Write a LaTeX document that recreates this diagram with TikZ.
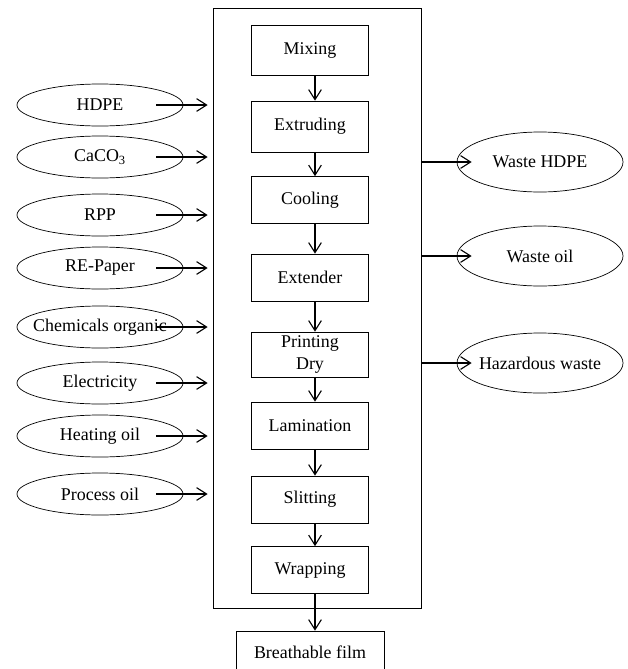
\documentclass[tikz,border=0pt]{standalone}
\usepackage{fontspec}
\setmainfont{Liberation Serif}
\usetikzlibrary{shapes.geometric,arrows.meta}

\tikzset{
proc/.style={rectangle,draw,minimum width=3.51cm,minimum height=1.41cm,inner sep=0pt,align=center},
inp/.style={ellipse,draw,minimum width=4.98cm,minimum height=1.26cm,inner sep=0pt,
  execute at begin node={\hbox to 0pt\bgroup\hss},execute at end node={\hss\egroup}},
outp/.style={inp,minimum height=1.8cm},
flow/.style={-{Straight Barb[length=3mm,width=3.8mm]},line width=0.95pt}
}

\begin{document}
\begin{tikzpicture}[x=0.03cm,y=-0.03cm,
font=\fontsize{15.3}{18.7}\selectfont,
line width=0.6pt
]
\useasboundingbox (0,0) rectangle (628,669);
\node (frame) [draw,minimum width=6.24cm,minimum height=18cm] at (317,308) {};
% process steps
\node (mix) [proc,minimum height=1.5cm] at (310,50) {Mixing};
\node (extr) [proc,minimum height=1.53cm] at (310,126.5) {Extruding};
\node (cool) [proc] at (310,200) {Cooling};
\node (ext) [proc] at (310,277.5) {Extender};
\node (print) [proc,minimum height=1.35cm] at (310,354.5) {Printing\\Dry};
\node (lam) [proc] at (310,425.5) {Lamination};
\node (slit) [proc] at (310,499.5) {Slitting};
\node (wrap) [proc] at (310,570) {Wrapping};
\node (film) [proc,minimum width=4.44cm,minimum height=1.26cm] at (310,652) {Breathable film};
\foreach \a/\b in {mix/extr,extr/cool,cool/ext,ext/print,print/lam,lam/slit,slit/wrap,wrap/film}
  \draw[flow] ([xshift=1.5mm]\a.south) -- ([xshift=1.5mm]\b.north);
% inputs
\foreach \n/\y/\t in {hdpe/105/HDPE,caco/157/CaCO\textsubscript{3},rpp/215/RPP,paper/268/RE-Paper,
  chem/327/Chemicals organic,elec/383/Electricity,heat/436/Heating oil,proc/494/Process oil}{
  \node (\n) [inp] at (100,\y) {\t};
  \draw[flow,shorten >=1.5mm] ([xshift=-0.81cm]\n.east) -- (frame.west |- \n);
}
% outputs
\foreach \n/\y/\t in {whdpe/162/Waste HDPE,woil/256/Waste oil,haz/363/Hazardous waste}{
  \node (\n) [outp] at (540,\y) {\t};
  \draw[flow] (frame.east |- \n) -- ([xshift=0.45cm]\n.west);
}
\end{tikzpicture}
\end{document}
